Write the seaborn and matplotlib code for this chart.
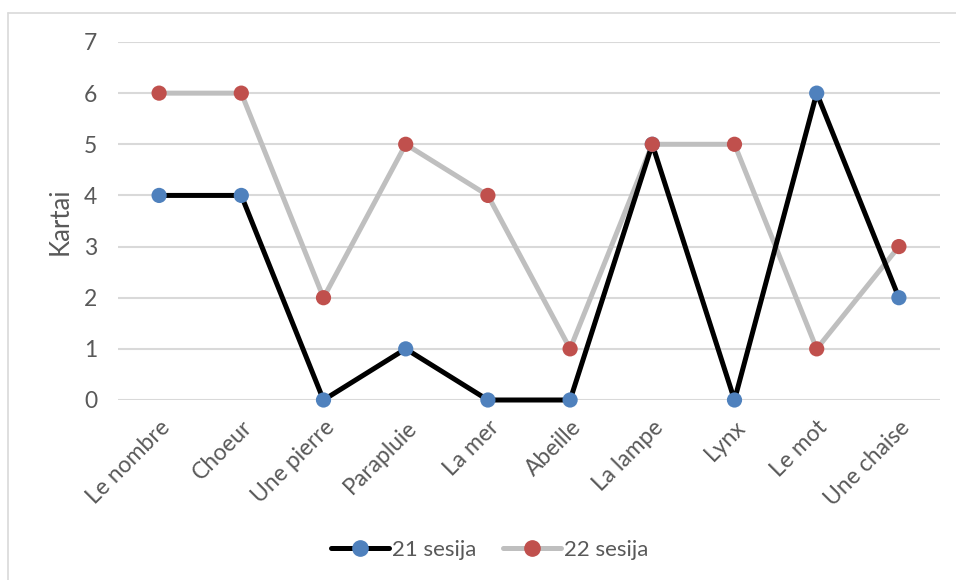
import matplotlib
matplotlib.use("Agg")
import matplotlib.pyplot as plt
from matplotlib.lines import Line2D
import seaborn as sns
import pandas as pd

categories = ["Le nombre", "Choeur", "Une pierre", "Parapluie", "La mer",
              "Abeille", "La lampe", "Lynx", "Le mot", "Une chaise"]
sesija_21 = [4, 4, 0, 1, 0, 0, 5, 0, 6, 2]
sesija_22 = [6, 6, 2, 5, 4, 1, 5, 5, 1, 3]
series_names = ["21 sesija", "22 sesija"]
y_ticks = [0, 1, 2, 3, 4, 5, 6, 7]

sns.set_theme(style="white")
plt.rcParams["font.family"] = ["Lato", "DejaVu Sans"]

text_color = "#595959"
grid_color = "#d9d9d9"
line_colors = ["#000000", "#bfbfbf"]
marker_colors = ["#4f81bd", "#c0504d"]

fig = plt.figure(figsize=(9.56, 5.8), dpi=100)
ax = fig.add_axes([118 / 956, 1 - 400 / 580, (940 - 118) / 956, (400 - 42) / 580])

idx = list(range(len(categories)))
df = pd.DataFrame({"x": idx * 2,
                   "value": sesija_21 + sesija_22,
                   "series": [series_names[0]] * len(idx) + [series_names[1]] * len(idx)})

line_z = [3, 2]
marker_z = [4, 5]
for i, name in enumerate(series_names):
    sub = df[df["series"] == name]
    sns.lineplot(data=sub, x="x", y="value", ax=ax, color=line_colors[i],
                 linewidth=3.6, sort=False, zorder=line_z[i], legend=False)
    sns.scatterplot(data=sub, x="x", y="value", ax=ax, color=marker_colors[i],
                    s=120, edgecolor="none", zorder=marker_z[i], legend=False)

ax.set_xlim(-0.5, len(categories) - 0.5)
ax.set_ylim(0, 7)
ax.set_yticks(y_ticks)
ax.set_xticks(idx)
ax.set_xticklabels(categories, rotation=45, ha="right", rotation_mode="anchor")
ax.tick_params(axis="both", length=0, labelsize=16.5, colors=text_color)
ax.tick_params(axis="y", pad=15)
ax.tick_params(axis="x", pad=12)
for lbl in ax.get_xticklabels():
    lbl.set_color(text_color)
ax.yaxis.grid(True, color=grid_color, linewidth=1.5)
ax.set_axisbelow(True)
for s in ax.spines.values():
    s.set_visible(False)
for artist in list(ax.collections) + list(ax.lines):
    artist.set_clip_on(False)

ax.set_xlabel("")
ax.set_ylabel("Kartai", fontsize=18.5, color=text_color, labelpad=8)

handles = [Line2D([0], [0], color=line_colors[i], linewidth=3.6, marker="o",
                  markersize=11, markerfacecolor=marker_colors[i],
                  markeredgecolor=marker_colors[i]) for i in range(2)]
leg = fig.legend(handles, series_names, loc="center", bbox_to_anchor=(490 / 956, 1 - 550 / 580),
                 ncol=2, frameon=False, fontsize=16, handlelength=2.6,
                 handletextpad=0.15, columnspacing=1.2)
for t in leg.get_texts():
    t.set_color(text_color)

# chart-area frame: only the top and left edges fall inside the image
frame_kw = dict(color="#d9d9d9", linewidth=1.2, transform=fig.transFigure)
fig.add_artist(Line2D([8 / 956, 1.0], [1 - 13 / 580, 1 - 13 / 580], **frame_kw))
fig.add_artist(Line2D([8 / 956, 8 / 956], [0.0, 1 - 13 / 580], **frame_kw))

fig.savefig("out.png", dpi=100, facecolor="white")
